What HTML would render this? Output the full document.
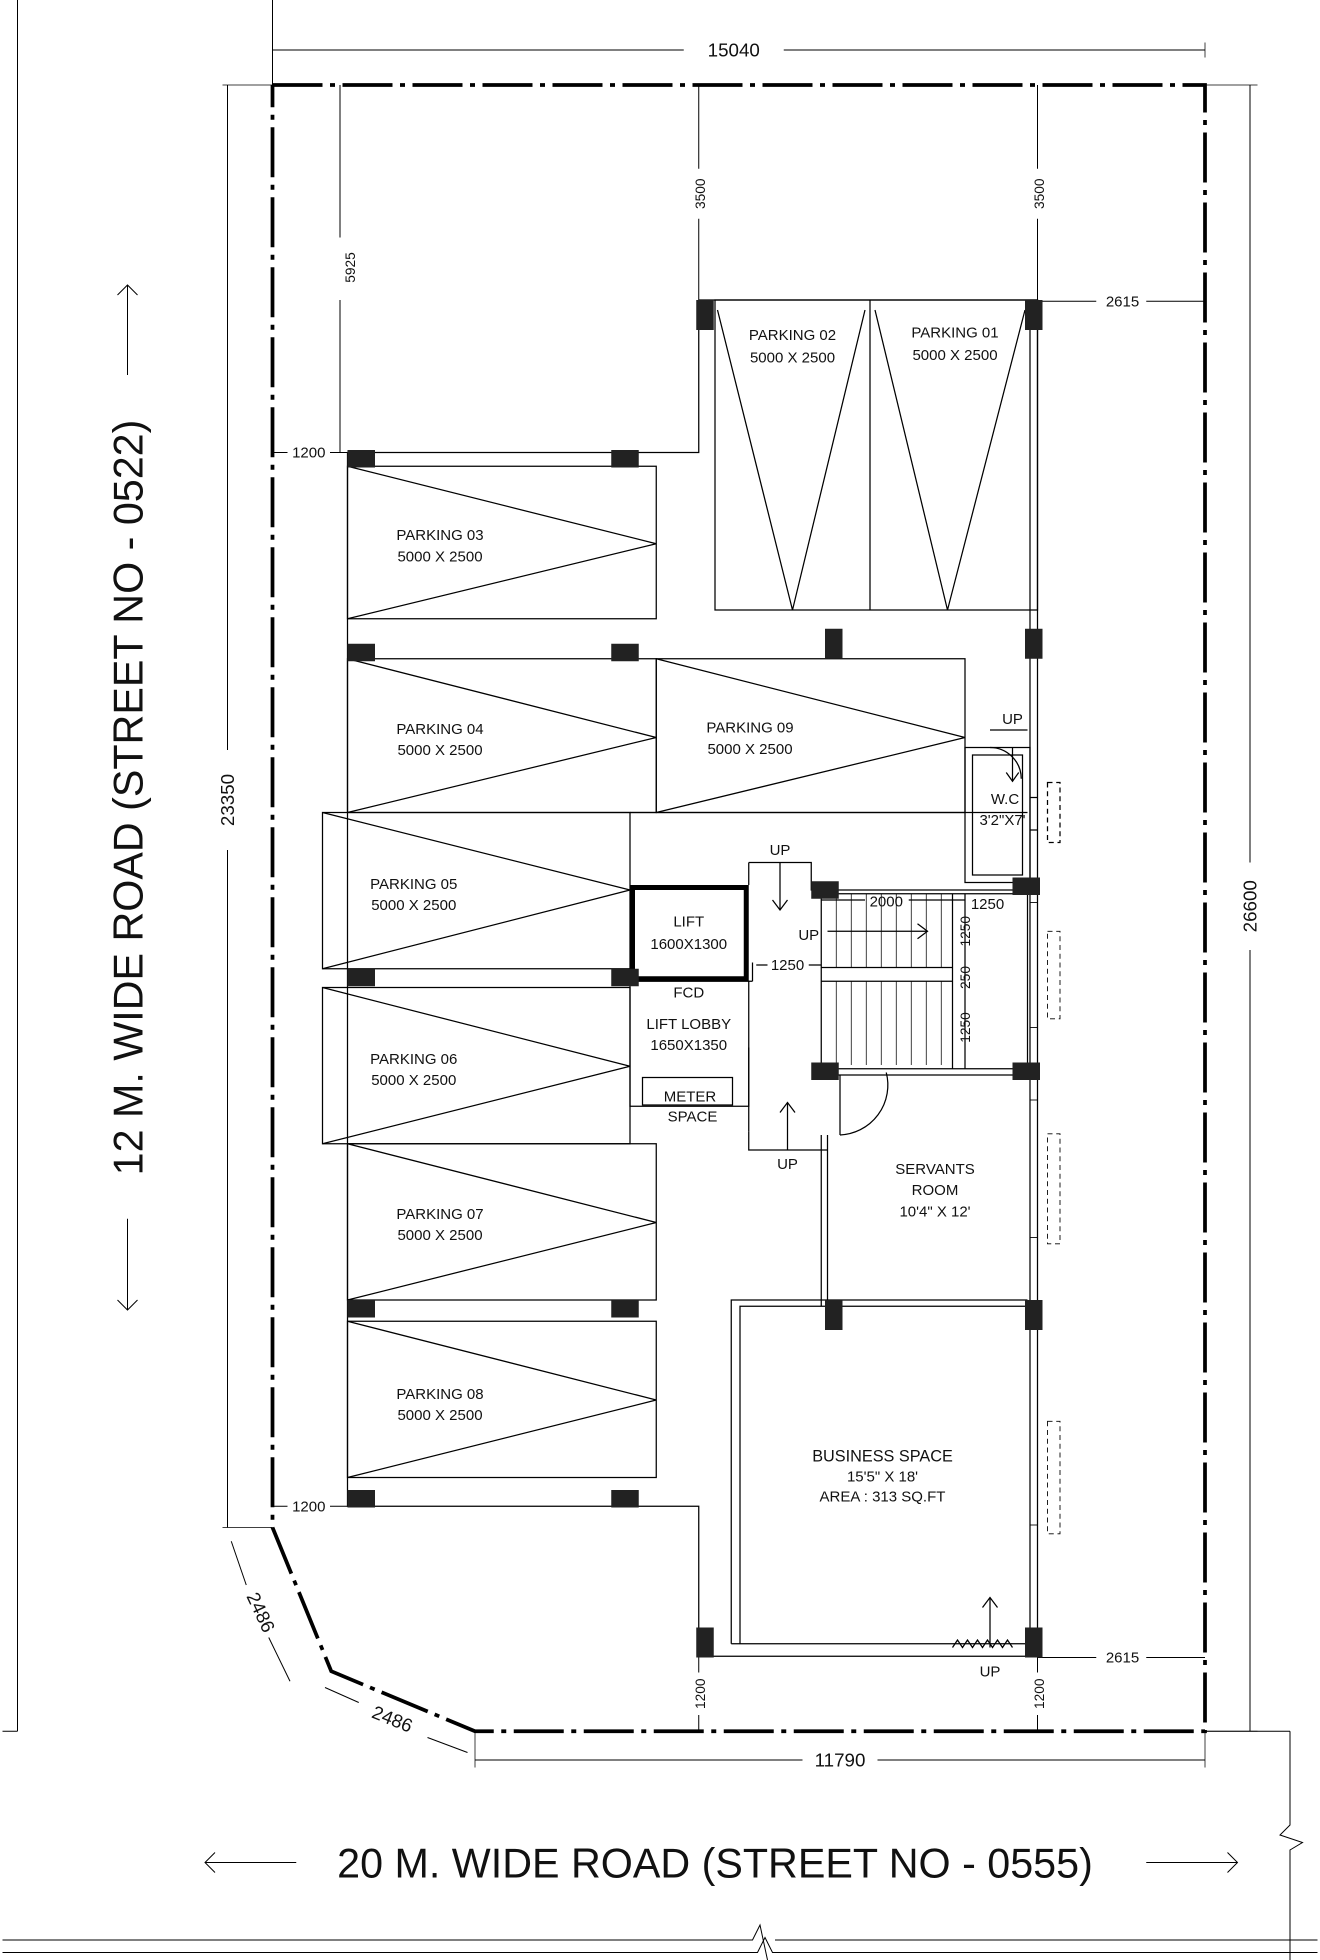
<!DOCTYPE html>
<html><head><meta charset="utf-8"><style>html,body{margin:0;padding:0;background:#fff}svg{display:block}text{font-family:"Liberation Sans",sans-serif;fill:#111}</style></head>
<body>
<svg width="1320" height="1960" viewBox="0 0 1052 1568" xmlns="http://www.w3.org/2000/svg">
<defs>
<marker id="t" markerWidth="8" markerHeight="8" refX="4" refY="4" orient="auto"><line x1="1" y1="7" x2="7" y2="1" stroke="#000" stroke-width="1"/></marker>
</defs>
<g fill="none" stroke="#000" stroke-width="0.8">
<!-- outer context lines -->
<line x1="216" y1="0" x2="216" y2="68"/>
<line x1="12" y1="0" x2="12" y2="1385"/><line x1="0" y1="1385" x2="12" y2="1385"/>
<line x1="962" y1="1385" x2="1030" y2="1385"/>
<polyline points="1030,1385 1030,1460 1022,1468 1040,1474 1030,1480 1030,1568"/>
<polyline points="0,1552 600,1552 606,1540 612,1568"/>
<polyline points="618,1552 1052,1552"/>
<polyline points="0,1562 604,1562 610,1550 616,1562 1052,1562"/>
<!-- dimension lines -->
<line x1="216" y1="40" x2="545" y2="40"/><line x1="625" y1="40" x2="962" y2="40"/>
<line x1="180" y1="68" x2="180" y2="600"/><line x1="180" y1="680" x2="180" y2="1222"/>
<line x1="998" y1="68" x2="998" y2="690"/><line x1="998" y1="760" x2="998" y2="1385"/>
<line x1="270" y1="68" x2="270" y2="190"/><line x1="270" y1="240" x2="270" y2="362"/>
<line x1="557" y1="68" x2="557" y2="135"/><line x1="557" y1="175" x2="557" y2="240"/>
<line x1="828" y1="68" x2="828" y2="135"/><line x1="828" y1="175" x2="828" y2="240"/>
<line x1="828" y1="241" x2="875" y2="241"/><line x1="915" y1="241" x2="962" y2="241"/>
<line x1="828" y1="1326" x2="875" y2="1326"/><line x1="915" y1="1326" x2="962" y2="1326"/>
<line x1="216" y1="362" x2="228" y2="362"/><line x1="262" y1="362" x2="276" y2="362"/>
<line x1="216" y1="1205" x2="228" y2="1205"/><line x1="262" y1="1205" x2="276" y2="1205"/>
<line x1="378" y1="1408" x2="640" y2="1408"/><line x1="700" y1="1408" x2="962" y2="1408"/>
<line x1="557" y1="1325" x2="557" y2="1338"/><line x1="557" y1="1372" x2="557" y2="1385"/>
<line x1="828" y1="1325" x2="828" y2="1338"/><line x1="828" y1="1372" x2="828" y2="1385"/>
<line x1="183" y1="1233" x2="195" y2="1268"/><line x1="213" y1="1310" x2="230" y2="1345"/>
<line x1="258" y1="1350" x2="285" y2="1362"/><line x1="340" y1="1390" x2="372" y2="1402"/>
<g stroke-width="0.6"><line x1="176" y1="1222" x2="216" y2="1222"/><line x1="176" y1="68" x2="216" y2="68"/><line x1="962" y1="68" x2="1004" y2="68"/><line x1="962" y1="1385" x2="1004" y2="1385"/><line x1="378" y1="1385" x2="378" y2="1414"/><line x1="962" y1="1385" x2="962" y2="1414"/><line x1="216" y1="34" x2="216" y2="46"/><line x1="962" y1="34" x2="962" y2="46"/></g>
<!-- arrows -->
<line x1="100" y1="228" x2="100" y2="300"/><polyline points="92,236 100,228 108,236"/>
<line x1="100" y1="975" x2="100" y2="1048"/><polyline points="92,1040 100,1048 108,1040"/>
<line x1="162" y1="1490" x2="235" y2="1490"/><polyline points="170,1482 162,1490 170,1498"/>
<line x1="915" y1="1490" x2="988" y2="1490"/><polyline points="980,1482 988,1490 980,1498"/>
</g>
<!-- plot boundary -->
<polyline points="216,68 962,68 962,1385 378,1385 263,1337 216,1222 216,68" fill="none" stroke="#000" stroke-width="3" stroke-dasharray="40,6,4,6"/>
<!-- building walls -->
<g fill="none" stroke="#000" stroke-width="1">
<polyline points="557,240 557,362 276,362 276,1205 557,1205 557,1325 828,1325 828,240 557,240"/>
<line x1="822" y1="240" x2="822" y2="1325"/>
<!-- parking 01/02 -->
<rect x="570" y="240" width="258" height="248"/><line x1="694" y1="240" x2="694" y2="488"/>
<polyline points="572,248 632,488 690,248"/><polyline points="698,248 756,488 818,248"/>
<!-- parkings -->
<rect x="276" y="373" width="247" height="122"/><polyline points="276,373 523,435 276,495"/>
<rect x="276" y="527" width="247" height="123"/><polyline points="276,527 523,590 276,650"/>
<rect x="523" y="527" width="247" height="123"/><polyline points="523,527 770,590 523,650"/>
<rect x="256" y="650" width="246" height="125"/><polyline points="256,650 502,712 256,775"/>
<rect x="256" y="790" width="246" height="125"/><polyline points="256,790 502,853 256,915"/>
<rect x="276" y="915" width="247" height="125"/><polyline points="276,915 523,978 276,1040"/>
<rect x="276" y="1057" width="247" height="125"/><polyline points="276,1057 523,1120 276,1182"/>
<line x1="502" y1="650" x2="820" y2="650"/>
<!-- WC -->
<rect x="770" y="598" width="52" height="108"/><rect x="776" y="604" width="40" height="96"/>
<line x1="790" y1="584" x2="820" y2="584"/><line x1="808" y1="598" x2="808" y2="625"/><polyline points="803,618 808,625 813,618"/>
<path d="M790,598 A25,25 0 0 1 815,623"/>
<rect x="836" y="626" width="10" height="48" stroke-dasharray="4,3"/><line x1="822" y1="638" x2="828" y2="638"/><line x1="822" y1="664" x2="828" y2="664"/>
<!-- lift lobby area -->
<rect x="502" y="785" width="95" height="100"/>
<polyline points="597,690 647,690 647,712 820,712"/>
<line x1="597" y1="690" x2="597" y2="708"/>
<line x1="622" y1="690" x2="622" y2="728"/><polyline points="616,720 622,728 628,720"/>
<line x1="600" y1="770" x2="600" y2="785"/><line x1="597" y1="785" x2="600" y2="785"/>
<rect x="512" y="862" width="72" height="22"/>
<line x1="597" y1="838" x2="597" y2="905"/><polyline points="597,905 597,920 660,920"/>
<line x1="628" y1="882" x2="628" y2="920"/><polyline points="622,890 628,882 634,890"/>
<path d="M670,908 A40,40 0 0 0 707,858"/><line x1="670" y1="860" x2="670" y2="908"/>
<!-- stairs -->
<rect x="655" y="715" width="165" height="140"/>
<line x1="655" y1="785" x2="760" y2="785"/><line x1="655" y1="774" x2="760" y2="774"/>
<g stroke-width="0.6">
<line x1="667" y1="715" x2="667" y2="774"/><line x1="679" y1="715" x2="679" y2="774"/><line x1="691" y1="715" x2="691" y2="774"/><line x1="703" y1="715" x2="703" y2="774"/><line x1="715" y1="715" x2="715" y2="774"/><line x1="727" y1="715" x2="727" y2="774"/><line x1="739" y1="715" x2="739" y2="774"/><line x1="751" y1="715" x2="751" y2="774"/>
<line x1="667" y1="785" x2="667" y2="852"/><line x1="679" y1="785" x2="679" y2="852"/><line x1="691" y1="785" x2="691" y2="852"/><line x1="703" y1="785" x2="703" y2="852"/><line x1="715" y1="785" x2="715" y2="852"/><line x1="727" y1="785" x2="727" y2="852"/><line x1="739" y1="785" x2="739" y2="852"/><line x1="751" y1="785" x2="751" y2="852"/>
</g>
<line x1="760" y1="715" x2="760" y2="855"/>
<line x1="660" y1="745" x2="740" y2="745"/><polyline points="732,739 740,745 732,751"/>
<line x1="655" y1="720" x2="690" y2="720"/><line x1="725" y1="720" x2="770" y2="720"/>
<line x1="770" y1="715" x2="770" y2="855"/>
<line x1="603" y1="772" x2="612" y2="772"/><line x1="645" y1="772" x2="655" y2="772"/>
<!-- servants room -->
<line x1="655" y1="908" x2="655" y2="1045"/><line x1="660" y1="908" x2="660" y2="1045"/>
<line x1="660" y1="860" x2="820" y2="860"/>
<!-- business space -->
<polyline points="583,1315 583,1040 820,1040"/><polyline points="590,1315 590,1045 820,1045"/>
<line x1="583" y1="1315" x2="820" y2="1315"/>
<line x1="790" y1="1278" x2="790" y2="1318"/><polyline points="784,1286 790,1278 796,1286"/>
<polyline points="760,1318 764,1312 768,1318 772,1312 776,1318 780,1312 784,1318 788,1312 792,1318 796,1312 800,1318 804,1312 808,1318"/>
<!-- windows -->
<g stroke-width="0.7">
<rect x="822" y="722" width="6" height="100"/><rect x="836" y="745" width="10" height="70" stroke-dasharray="4,3"/>
<rect x="822" y="880" width="6" height="110"/><rect x="836" y="907" width="10" height="88" stroke-dasharray="4,3"/>
<rect x="822" y="1060" width="6" height="160"/><rect x="836" y="1137" width="10" height="90" stroke-dasharray="4,3"/>
</g>
</g>
<!-- lift thick walls -->
<rect x="504" y="710" width="91" height="73" fill="none" stroke="#000" stroke-width="4"/>
<!-- columns -->
<g fill="#222">
<rect x="555" y="240" width="14" height="24"/><rect x="818" y="240" width="14" height="24"/>
<rect x="276" y="360" width="22" height="14"/><rect x="487" y="360" width="22" height="14"/>
<rect x="276" y="515" width="22" height="14"/><rect x="487" y="515" width="22" height="14"/>
<rect x="658" y="503" width="14" height="24"/><rect x="818" y="503" width="14" height="24"/>
<rect x="808" y="702" width="22" height="14"/><rect x="647" y="705" width="22" height="14"/>
<rect x="276" y="775" width="22" height="14"/><rect x="487" y="775" width="22" height="14"/>
<rect x="647" y="850" width="22" height="14"/><rect x="808" y="850" width="22" height="14"/>
<rect x="276" y="1040" width="22" height="14"/><rect x="487" y="1040" width="22" height="14"/>
<rect x="658" y="1040" width="14" height="24"/><rect x="818" y="1040" width="14" height="24"/>
<rect x="276" y="1192" width="22" height="14"/><rect x="487" y="1192" width="22" height="14"/>
<rect x="555" y="1302" width="14" height="24"/><rect x="818" y="1302" width="14" height="24"/>
</g>
<!-- labels -->
<g font-size="12" text-anchor="middle">
<text x="632" y="272">PARKING 02</text><text x="632" y="290">5000 X 2500</text>
<text x="762" y="270">PARKING 01</text><text x="762" y="288">5000 X 2500</text>
<text x="350" y="432">PARKING 03</text><text x="350" y="449">5000 X 2500</text>
<text x="350" y="587">PARKING 04</text><text x="350" y="604">5000 X 2500</text>
<text x="598" y="586">PARKING 09</text><text x="598" y="603">5000 X 2500</text>
<text x="329" y="711">PARKING 05</text><text x="329" y="728">5000 X 2500</text>
<text x="329" y="851">PARKING 06</text><text x="329" y="868">5000 X 2500</text>
<text x="350" y="975">PARKING 07</text><text x="350" y="992">5000 X 2500</text>
<text x="350" y="1119">PARKING 08</text><text x="350" y="1136">5000 X 2500</text>
<text x="549" y="741">LIFT</text><text x="549" y="759">1600X1300</text>
<text x="549" y="798">FCD</text>
<text x="549" y="823">LIFT LOBBY</text><text x="549" y="840">1650X1350</text>
<text x="550" y="881">METER</text><text x="552" y="897">SPACE</text>
<text x="808" y="579">UP</text><text x="802" y="643">W.C</text><text x="800" y="660">3'2"X7'</text>
<text x="622" y="684">UP</text><text x="645" y="752">UP</text><text x="628" y="935">UP</text>
<text x="707" y="725">2000</text><text x="788" y="727">1250</text><text x="628" y="776">1250</text>
<text x="746" y="939">SERVANTS</text><text x="746" y="956">ROOM</text><text x="746" y="973">10'4" X 12'</text>
<text x="704" y="1169" font-size="13">BUSINESS SPACE</text><text x="704" y="1185">15'5" X 18'</text><text x="704" y="1201">AREA : 313 SQ.FT</text>
<text x="790" y="1341">UP</text>
<text x="896" y="245">2615</text><text x="896" y="1330">2615</text>
<text x="245" y="366">1200</text><text x="245" y="1209">1200</text>
<text x="585" y="45" font-size="15">15040</text>
<text x="670" y="1413" font-size="15">11790</text>
<text transform="translate(185,640) rotate(-90)" font-size="15">23350</text>
<text transform="translate(1003,725) rotate(-90)" font-size="15">26600</text>
<text transform="translate(282,214) rotate(-90)" font-size="11">5925</text>
<text transform="translate(562,155) rotate(-90)" font-size="11">3500</text>
<text transform="translate(833,155) rotate(-90)" font-size="11">3500</text>
<text transform="translate(562,1355) rotate(-90)" font-size="11">1200</text>
<text transform="translate(833,1355) rotate(-90)" font-size="11">1200</text>
<text transform="translate(774,745) rotate(-90)" font-size="11">1250</text>
<text transform="translate(774,782) rotate(-90)" font-size="11">250</text>
<text transform="translate(774,822) rotate(-90)" font-size="11">1250</text>
<text transform="translate(202,1292) rotate(65)" font-size="15">2486</text>
<text transform="translate(310,1380) rotate(22)" font-size="15">2486</text>
<text x="570" y="1502" font-size="33">20 M. WIDE ROAD (STREET NO - 0555)</text>
<text transform="translate(112,638) rotate(-90)" font-size="33">12 M. WIDE ROAD (STREET NO - 0522)</text>
</g>
</svg>
</body></html>
